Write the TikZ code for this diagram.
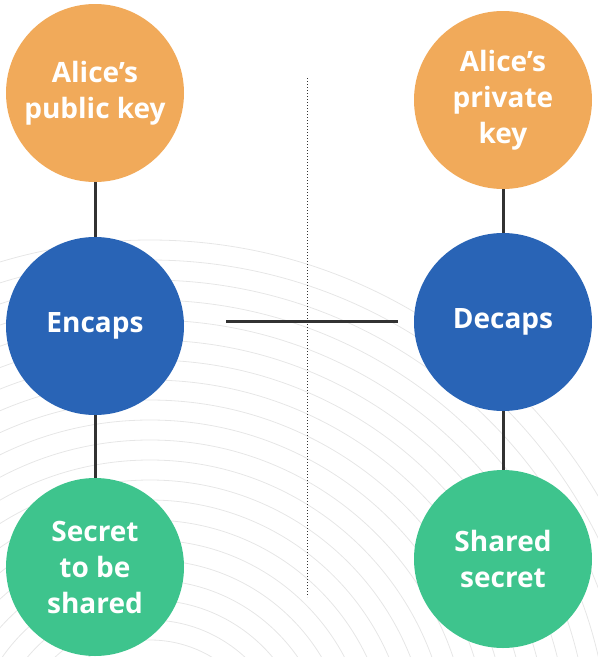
\documentclass[tikz,border=0pt]{standalone}
\usepackage{fontspec}
\setmainfont{Open Sans}
\usepackage{xcolor}
\usepackage{tikz}
\usetikzlibrary{positioning,calc}
\definecolor{kemOrange}{RGB}{241,170, 90}
\definecolor{kemBlue}  {RGB}{ 41,100,182}
\definecolor{kemGreen} {RGB}{ 62,196,141}
\definecolor{kemLine}  {RGB}{ 50, 50, 50}
\definecolor{kemArc}   {RGB}{230,230,230}

\begin{document}
\begin{tikzpicture}[x=1pt,y=-1pt,
  every node/.style={font=\fontsize{28}{36}\selectfont\bfseries,text=white},
  ball/.style={circle,minimum size=178pt,inner sep=0pt,align=center},
  link/.style={kemLine,line width=3pt}
]
\useasboundingbox (0,0) rectangle (598,657);

% faint background arcs
\begin{scope}
  \clip (0,0) rectangle (598,657);
  \foreach \r in {100,120,...,520}
    \draw[kemArc,line width=0.8pt] (150,760) circle (\r);
\end{scope}

% divider
\draw[kemLine,dotted,line width=1pt] (307,78) -- (307,597);

\node[ball,fill=kemOrange] (PK)  at ( 95, 93) {Alice's\\public key};
\node[ball,fill=kemBlue]   (ENC) at ( 95,326) {Encaps};
\node[ball,fill=kemGreen]  (SEC) at ( 95,567) {Secret\\to be\\shared};

\node[ball,fill=kemOrange] (SK)  at (503,100) {Alice's\\private\\key};
\node[ball,fill=kemBlue]   (DEC) at (503,322) {Decaps};
\node[ball,fill=kemGreen]  (SS)  at (503,559) {Shared\\secret};

\draw[link] (PK.south) -- (ENC.north);
\draw[link] (ENC.south) -- (SEC.north);
\draw[link] (SK.south) -- (DEC.north);
\draw[link] (DEC.south) -- (SS.north);

\coordinate (ctL) at (226,321);
\coordinate (ctR) at (398,321);
\draw[link] (ctL) -- (ctR);
\end{tikzpicture}
\end{document}
